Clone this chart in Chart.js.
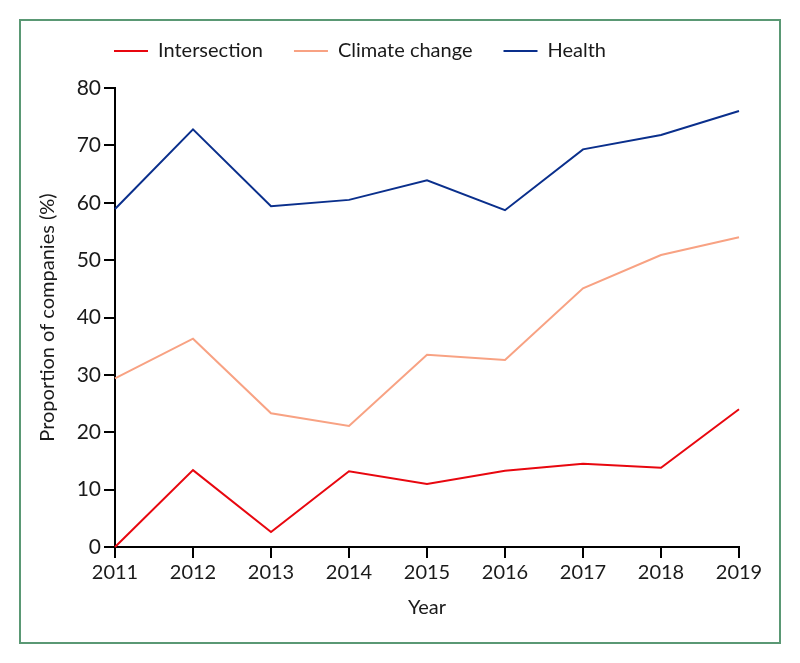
<!DOCTYPE html>
<html>
<head>
<meta charset="utf-8">
<script src="https://cdn.jsdelivr.net/npm/chart.js@4.4.1/dist/chart.umd.min.js"></script>
<style>
  html, body { margin: 0; padding: 0; background: #fff; }
  #wrap { position: relative; width: 800px; height: 663px; }
</style>
</head>
<body>
<div id="wrap"><canvas id="myChart" width="800" height="663"></canvas></div>
<script>
const years = ['2011', '2012', '2013', '2014', '2015', '2016', '2017', '2018', '2019'];
const intersection = [0, 13.4, 2.6, 13.2, 11.0, 13.3, 14.5, 13.8, 24.0];
const climateChange = [29.4, 36.3, 23.3, 21.1, 33.5, 32.6, 45.1, 50.9, 54.0];
const health = [58.9, 72.8, 59.4, 60.5, 63.9, 58.7, 69.3, 71.8, 76.0];

const FONT = 'Lato, "Open Sans", sans-serif';
Chart.defaults.font.family = FONT;
Chart.defaults.font.size = 20;
Chart.defaults.color = '#1a1a1a';

// Cadre vert autour de la figure + placement de la légende
const framePlugin = {
  id: 'frame',
  beforeInit(chart) {
    const fit = chart.legend.fit;
    chart.legend.fit = function () {
      fit.call(this);
      this.height = 88;
    };
  },
  afterLayout(chart) {
    chart.legend.left = 83;
    chart.legend.top = 10;
  },
  beforeDraw(chart) {
    const ctx = chart.ctx;
    ctx.save();
    ctx.fillStyle = '#fff';
    ctx.fillRect(0, 0, chart.width, chart.height);
    ctx.restore();
  },
  afterDraw(chart) {
    const ctx = chart.ctx;
    ctx.save();
    ctx.strokeStyle = '#5a9874';
    ctx.lineWidth = 2;
    ctx.strokeRect(20, 20, 760, 623);
    ctx.restore();
  }
};

const lineDs = (label, data, color) => ({
  label: label,
  data: data,
  borderColor: color,
  backgroundColor: color,
  borderWidth: 2,
  pointRadius: 0,
  tension: 0,
  clip: false
});

const config = {
  type: 'line',
  data: {
    labels: years,
    datasets: [
      lineDs('Intersection', intersection, '#e8070f'),
      lineDs('Climate change', climateChange, '#f8a283'),
      lineDs('Health', health, '#0a2f8c')
    ]
  },
  options: {
    responsive: false,
    animation: false,
    layout: { padding: { left: 30, right: 61, top: 0, bottom: 30 } },
    plugins: {
      tooltip: { enabled: false },
      legend: {
        position: 'top',
        align: 'start',
        labels: {
          boxWidth: 34,
          boxHeight: 2,
          padding: 31,
          color: '#1a1a1a',
          font: { size: 20 },
          generateLabels(chart) {
            return chart.data.datasets.map((ds, i) => ({
              text: ds.label,
              fillStyle: ds.borderColor,
              strokeStyle: ds.borderColor,
              lineWidth: 0,
              hidden: false,
              datasetIndex: i,
              fontColor: '#1a1a1a'
            }));
          }
        }
      }
    },
    scales: {
      x: {
        type: 'category',
        offset: false,
        afterFit(scale) { scale.height = 86; },
        grid: { drawOnChartArea: false, drawTicks: true, tickLength: 11, color: '#000', lineWidth: 2 },
        border: { display: true, color: '#000', width: 2 },
        ticks: { padding: 3, maxRotation: 0, autoSkip: false, color: '#1a1a1a', font: { size: 20 } },
        title: { display: true, text: 'Year', color: '#1a1a1a', font: { size: 20 }, padding: { top: 0, bottom: 13 } }
      },
      y: {
        min: 0,
        max: 80,
        afterFit(scale) { scale.width = 85; },
        grid: { drawOnChartArea: false, drawTicks: true, tickLength: 11, color: '#000', lineWidth: 2 },
        border: { display: true, color: '#000', width: 2 },
        ticks: { stepSize: 10, padding: 3, color: '#1a1a1a', font: { size: 21 } },
        title: { display: true, text: 'Proportion of companies (%)', color: '#1a1a1a', font: { size: 20 }, padding: { top: 6, bottom: 0 } }
      }
    }
  },
  plugins: [framePlugin]
};

const ctx = document.getElementById('myChart').getContext('2d');
new Chart(ctx, config);
</script>
</body>
</html>
